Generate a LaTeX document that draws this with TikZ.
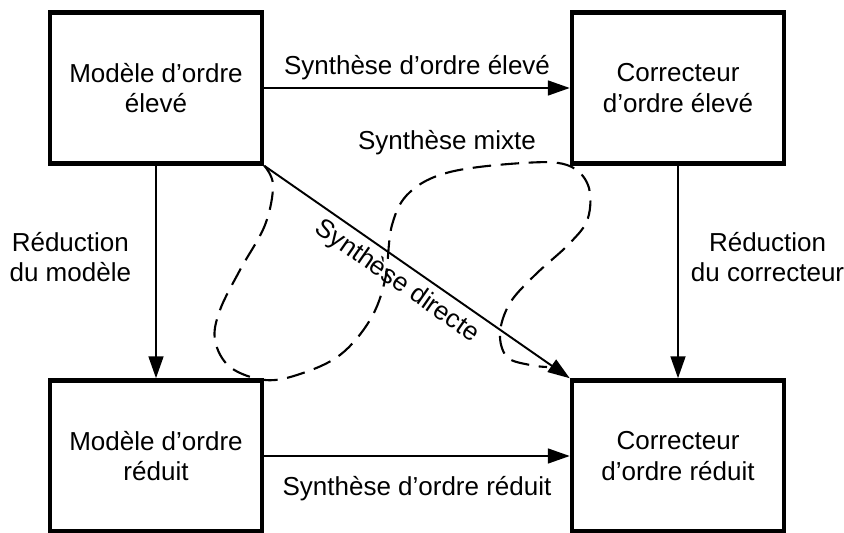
\documentclass[tikz,border=0pt]{standalone}
\usepackage{fontspec}
\setmainfont{Liberation Sans}
\usetikzlibrary{arrows.meta}

\begin{document}
\begin{tikzpicture}[x=0.02cm, y=-0.02cm,
        bloc/.style={draw, line width=2.6pt, minimum width=4.24cm, minimum height=3.02cm,
            align=center, font=\fontsize{14.8}{17.4}\selectfont},
        fleche/.style={-{Triangle[length=12.5pt, width=8.5pt]}, line width=1.1pt},
        etiq/.style={font=\fontsize{14.8}{17.4}\selectfont, align=center, inner sep=0pt}]
    \useasboundingbox (0,0) rectangle (844,533);
    % les quatre blocs
    \node[bloc] (mhaut) at (156,88) {Modèle d’ordre\\élevé};
    \node[bloc] (chaut) at (678,88) {Correcteur\\d’ordre élevé};
    \node[bloc] (mbas) at (156,456) {Modèle d’ordre\\réduit};
    \node[bloc] (cbas) at (678,456) {Correcteur\\d’ordre réduit};
    % les fleches
    \draw[fleche] (mhaut) -- (chaut) node[etiq, midway, above=0.15cm] {Synthèse d’ordre élevé};
    \draw[fleche] (mbas) -- (cbas) node[etiq, midway, below=0.38cm] {Synthèse d’ordre réduit};
    \draw[fleche] (mhaut) -- (mbas) node[etiq, pos=0.43, left=0.48cm] {Réduction\\du modèle};
    \draw[fleche] (chaut) -- (cbas) node[etiq, pos=0.43, right=0.24cm] {Réduction\\du correcteur};
    \draw[fleche] (mhaut.south east) -- (cbas.north west)
        node[etiq, pos=0.47, sloped, below=3.5pt] {Synthèse directe};
    % synthese mixte
    \draw[line width=1.2pt, dash pattern=on 10.5pt off 5.5pt] plot[smooth, tension=0.6] coordinates {
        (mhaut.south east) (273,185) (265,225) (240,270) (220,310) (215,340) (230,367)
        (265,380) (300,374) (340,355) (370,320) (385,280) (392,225) (410,192) (450,172)
        (523,163) (567,165) (588,185) (588,218) (570,243) (535,275) (510,303) (500,333)
        (507,357) (530,365) (547,367)};
    \node[etiq] (mixte) at (447,143) {Synthèse mixte};
\end{tikzpicture}
\end{document}
